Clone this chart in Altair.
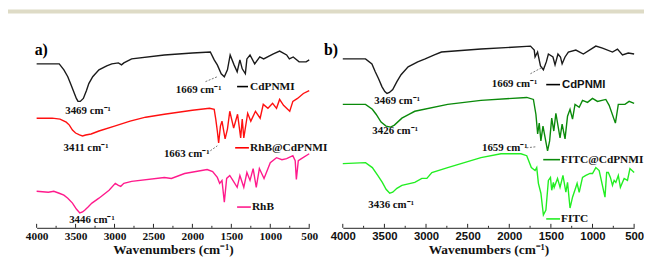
import altair as alt
import pandas as pd

# ---------------- data ----------------
# panel a
a_cd_w = [4000,3850,3710,3650,3600,3560,3520,3490,3469,3440,3400,3360,3330,3280,3200,3100,3035,2950,2910,2880,2780,2360,2000,1770,1720,1680,1630,1590,1550,1515,1465,1425,1390,1360,1320,1300,1260,1200,1135,1085,960,880,790,755,705,630,540,500]
a_cd_t = [166,166,166,160,153,145,137,131,128,128,131,139,146,153,160,164,166,167,165,167,171,175,177,178,170,165,156,153,160,175,165,158,170,161,156,171,175,166,173,171,176,179,175,171,173,168,168,170]

a_rhbcd_w = [4000,3800,3700,3620,3580,3540,3500,3450,3411,3370,3300,3200,3000,2800,2600,2360,2000,1780,1720,1700,1680,1663,1640,1620,1580,1550,1520,1470,1420,1380,1360,1340,1290,1250,1190,1130,1090,1030,970,920,880,830,750,710,650,575,500]
a_rhbcd_t = [111,111,110,107,104,99,96,94,93,94,95,98,103,108,112,115,119,121,120,110,98,86,103,108,90,100,118,101,115,91,110,91,116,108,118,111,125,121,126,121,130,124,118,128,131,136,139]

a_rhb_w = [4000,3850,3780,3710,3650,3600,3540,3490,3446,3410,3380,3340,3290,3200,3070,2990,2950,2920,2880,2780,2360,2270,2100,1810,1740,1680,1650,1620,1590,1560,1520,1480,1425,1390,1340,1300,1260,1220,1180,1140,1080,1000,920,850,790,710,680,665,640,600,500]
a_rhb_t = [37,36,37,35,33,30,25,19,15,16,18,21,25,30,38,45,43,42,45,47,51,50,55,59,57,51,45,48,26,50,53,48,41,53,41,56,48,60,41,60,50,66,71,69,70,73,68,49,68,70,75]

# panel b
b_cd_w = [4000,3727,3650,3610,3570,3530,3495,3469,3440,3400,3350,3300,3215,3100,3010,2900,2815,2340,1745,1700,1690,1660,1625,1590,1555,1530,1475,1450,1415,1385,1365,1330,1290,1200,1110,960,880,760,700,640,570,500]
b_cd_t = [171,171,166,158,151,143,138,136,137,140,148,155,163,168,171,175,178,181,184,180,173,178,164,160,168,176,173,165,176,173,166,173,178,180,176,184,182,178,181,175,177,176]

b_fitccd_w = [4000,3727,3645,3600,3540,3480,3426,3380,3290,3200,3135,2740,2340,1790,1710,1680,1659,1640,1620,1595,1540,1515,1490,1465,1440,1390,1365,1330,1300,1270,1240,1210,1160,1120,1060,1000,940,840,800,725,690,610,560,500]
b_fitccd_t = [125,125,120,115,107,103,102,104,111,115,118,125,129,132,130,115,95,106,88,103,78,88,111,98,116,91,105,90,113,120,110,125,122,129,127,131,128,130,124,106,125,125,128,126]

b_fitc_w = [4000,3727,3645,3580,3525,3480,3436,3400,3350,3290,3135,3050,2990,2930,2740,2540,2340,2100,1860,1790,1735,1690,1670,1650,1620,1590,1560,1530,1505,1490,1470,1460,1420,1390,1355,1320,1300,1270,1240,1200,1185,1160,1120,1080,1030,1000,960,920,850,830,810,785,760,740,720,690,665,620,580,550,525,500]
b_fitc_t = [65,66,61,53,46,39,35,36,40,43,46,50,50,56,61,66,71,75,75,73,61,58,61,45,35,13,18,48,51,38,46,41,50,41,53,36,46,20,31,41,45,36,51,53,55,55,61,58,31,56,56,51,43,48,46,53,41,50,48,60,58,56]

tick_major = [4000, 3500, 3000, 2500, 2000, 1500, 1000, 500]
tick_minor = [3750, 3250, 2750, 2250, 1750, 1250, 750]

# annotations: (wavenumber, level, text)
a_peak_labels = [(3340, 118, "3469 cm⁻¹"), (1920, 140, "1669 cm⁻¹"),
                 (3366, 81, "3411 cm⁻¹"), (2073, 75, "1663 cm⁻¹"),
                 (3290, 8, "3446 cm⁻¹")]
a_leaders = [(1832, 148, 1680, 153), (1806, 76, 1680, 83)]
# legend: (line start, line end, text start, level, text, colour)
a_legend = [(1426, 1286, 1261, 143, "CdPNMI", "#000000"),
            (1451, 1274, 1261, 81, "RhB@CdPNMI", "#ff0000"),
            (1426, 1249, 1236, 21, "RhB", "#ff1a8c")]

b_peak_labels = [(3347, 128, "3469 cm⁻¹"), (3371, 98, "3426 cm⁻¹"),
                 (2054, 81, "1659 cm⁻¹"), (3419, 23, "3436 cm⁻¹"),
                 (1936, 146, "1669 cm⁻¹")]
b_leaders = [(1746, 156, 1592, 163), (1793, 81, 1686, 82)]
b_legend_sans = [(1556, 1390, 1367, 145, "CdPNMI", "#000000")]
b_legend = [(1592, 1390, 1378, 69, "FITC@CdPNMI", "#0a8a0a"),
            (1556, 1390, 1378, 9, "FITC", "#22ee22")]

SERIF = "Liberation Serif"
SANS = "Liberation Sans"


def curves(items):
    rows = []
    for name, ws, ts in items:
        for i, (w, t) in enumerate(zip(ws, ts)):
            rows.append({"series": name, "w": w, "t": t, "i": i})
    return pd.DataFrame(rows)


def panel(items, colors, labels, leaders, legends, legends_sans, tag, label_font, width, bar=False):
    x = alt.X("w:Q",
              scale=alt.Scale(domain=[500, 4000], reverse=True, nice=False, zero=False),
              axis=alt.Axis(values=tick_major, format="d", title="Wavenumbers (cm⁻¹)",
                            ticks=False, grid=False, labelFlush=False, labelOverlap=False,
                            labelSeparation=0,
                            labelFont=label_font, labelFontWeight="bold", labelFontSize=11.5,
                            labelColor="#111", labelPadding=3,
                            domainColor="#222", domainWidth=1,
                            titleFont=SERIF, titleFontWeight="bold", titleFontSize=13.5,
                            titleColor="#111", titlePadding=1))
    y = alt.Y("t:Q", scale=alt.Scale(domain=[0, 190], nice=False, zero=False), axis=None)

    df = curves(items)
    lines = alt.Chart(df).mark_line(strokeWidth=1.4, clip=False).encode(
        x=x, y=y,
        color=alt.Color("series:N", scale=alt.Scale(domain=[n for n, _, _ in items], range=colors), legend=None),
        order="i:Q", detail="series:N")

    tk = pd.DataFrame([{"w": w, "t": 0, "t2": 4} for w in tick_major] +
                      [{"w": w, "t": 0, "t2": 2} for w in tick_minor])
    ticks = alt.Chart(tk).mark_rule(color="#222", strokeWidth=1).encode(x=x, y=y, y2="t2:Q")

    lab = pd.DataFrame([{"w": w, "t": t, "txt": s} for w, t, s in labels])
    labt = alt.Chart(lab).mark_text(font=SERIF, fontWeight="bold", fontSize=11, color="#111",
                                    baseline="middle", align="center").encode(x=x, y=y, text="txt:N")

    ld = pd.DataFrame([{"w": a, "t": b, "w2": c, "t2": d} for a, b, c, d in leaders])
    ldr = alt.Chart(ld).mark_rule(color="#555", strokeWidth=0.8, strokeDash=[2, 1.5]).encode(
        x=x, y=y, x2="w2:Q", y2="t2:Q")

    layers = [ticks, lines, labt, ldr]

    for lg, font in ((legends, SERIF), (legends_sans, SANS)):
        if not lg:
            continue
        segd = pd.DataFrame([{"w": a, "w2": b, "t": t, "c": col} for a, b, c, t, s, col in lg])
        txtd = pd.DataFrame([{"w": c, "t": t, "txt": s} for a, b, c, t, s, col in lg])
        seg = alt.Chart(segd).mark_rule(strokeWidth=1.6).encode(
            x=x, x2="w2:Q", y=y, color=alt.Color("c:N", scale=None))
        txt = alt.Chart(txtd).mark_text(font=font, fontWeight="bold", fontSize=11.5, color="#111",
                                        align="left", baseline="middle").encode(x=x, y=y, text="txt:N")
        layers += [seg, txt]

    tg = pd.DataFrame([{"w": tag[0], "t": tag[1], "txt": tag[2]}])
    tagt = alt.Chart(tg).mark_text(font=SERIF, fontWeight="bold", fontSize=16, color="#000",
                                   align="left", baseline="middle").encode(x=x, y=y, text="txt:N")
    layers.append(tagt)

    if bar:
        bd = pd.DataFrame([{"k": 1}])
        barm = alt.Chart(bd).mark_rect(color="#dedbc6").encode(
            x=alt.value(-29), x2=alt.value(615), y=alt.value(-31), y2=alt.value(-27))
        layers.append(barm)

    return alt.layer(*layers).properties(width=width, height=190)


pa = panel([("CdPNMI", a_cd_w, a_cd_t), ("RhB@CdPNMI", a_rhbcd_w, a_rhbcd_t), ("RhB", a_rhb_w, a_rhb_t)],
           ["#1a1a1a", "#ff1010", "#ff1a8c"],
           a_peak_labels, a_leaders, a_legend, [], (4025, 180, "a)"), SERIF, 276, bar=True)
pb = panel([("CdPNMI", b_cd_w, b_cd_t), ("FITC@CdPNMI", b_fitccd_w, b_fitccd_t), ("FITC", b_fitc_w, b_fitc_t)],
           ["#1a1a1a", "#0a8a0a", "#22ee22"],
           b_peak_labels, b_leaders, b_legend, b_legend_sans, (4225, 180, "b)"), SANS, 295)

chart = alt.hconcat(pa, pb, spacing=34, bounds="flush").resolve_scale(color="independent").properties(
    padding=0).configure_view(stroke=None)

chart.save("out.html", embed_options={"renderer": "svg", "actions": False})
